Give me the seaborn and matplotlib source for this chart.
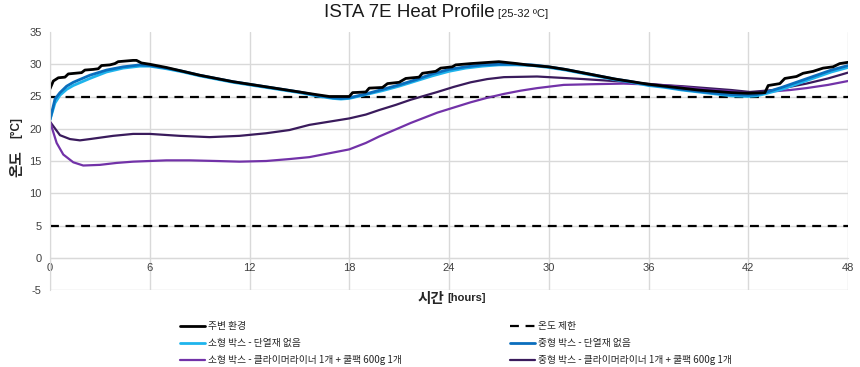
import numpy as np
import pandas as pd
import matplotlib
matplotlib.use("Agg")
import matplotlib.pyplot as plt
import seaborn as sns

# ---------------- data ----------------
amb_t = [0, 0.2, 0.5, 0.9, 1.1, 1.5, 1.9, 2.1, 2.6, 2.9, 3.1, 3.6, 3.9, 4.1, 5.0, 5.2, 5.5, 6,
         7, 8, 9, 10, 11, 12, 13, 14, 15, 16, 16.8, 18.0,
         18.2, 19.0, 19.2, 20.0, 20.3, 21.0, 21.4, 22.2, 22.4, 23.2, 23.5, 24.2, 24.4, 25.3, 27.0,
         28.1, 28.7, 30, 31, 32, 33, 34, 35, 36, 37, 38, 39, 40, 41, 42, 43.0,
         43.2, 43.9, 44.2, 44.9, 45.3, 45.9, 46.5, 47.1, 47.5, 48]
amb_v = [26.2, 27.4, 27.9, 28.0, 28.5, 28.6, 28.7, 29.1, 29.2, 29.3, 29.8, 29.9, 30.1, 30.4, 30.6, 30.6, 30.2, 30.0,
         29.5, 28.9, 28.3, 27.8, 27.3, 26.9, 26.5, 26.1, 25.7, 25.3, 25.0, 25.0,
         25.6, 25.7, 26.3, 26.4, 27.0, 27.2, 27.8, 28.0, 28.6, 28.9, 29.4, 29.6, 29.9, 30.1, 30.4,
         30.1, 29.9, 29.6, 29.2, 28.7, 28.2, 27.7, 27.3, 26.9, 26.6, 26.3, 26.0, 25.8, 25.6, 25.5, 25.6,
         26.7, 27.0, 27.8, 28.1, 28.6, 28.9, 29.4, 29.6, 30.1, 30.3]

blue_t = [0, 0.3, 0.6, 1, 1.4, 2.4, 3.4, 4.4, 5.4, 6, 7, 8, 9, 10, 11, 12, 13, 14, 15, 16, 17, 17.5, 18,
          19, 20, 21, 22, 23, 24, 25, 26, 27, 28, 29, 30, 31, 32, 33, 34, 35, 36, 37, 38, 39, 40, 41,
          42, 42.5, 43, 44, 45, 46, 47, 48]
small_blue_v = [21.4, 24.0, 25.2, 26.1, 26.7, 27.8, 28.8, 29.4, 29.7, 29.7, 29.3, 28.8, 28.2, 27.7, 27.2, 26.8,
                26.4, 26.0, 25.6, 25.1, 24.7, 24.6, 24.7, 25.3, 25.9, 26.6, 27.4, 28.2, 28.9, 29.4, 29.7, 29.9,
                29.9, 29.8, 29.5, 29.1, 28.6, 28.1, 27.6, 27.2, 26.7, 26.4, 26.0, 25.7, 25.4, 25.1, 25.0, 25.1,
                25.4, 26.1, 27.0, 27.9, 28.8, 29.5]
med_blue_v = [21.4, 24.6, 25.6, 26.6, 27.2, 28.3, 29.1, 29.6, 29.9, 29.8, 29.4, 28.9, 28.3, 27.8, 27.3, 26.9,
              26.5, 26.1, 25.7, 25.2, 24.8, 24.7, 24.8, 25.4, 26.1, 26.8, 27.6, 28.5, 29.2, 29.6, 29.9, 30.0,
              30.0, 29.9, 29.6, 29.2, 28.7, 28.2, 27.7, 27.3, 26.8, 26.5, 26.1, 25.8, 25.5, 25.3, 25.2, 25.3,
              25.6, 26.4, 27.3, 28.2, 29.1, 29.8]

small_pur_t = [0, 0.4, 0.8, 1.4, 2, 3, 4, 5, 6, 7, 8.4, 10, 11.4, 13, 14.4, 15.6, 16.8, 18, 19, 19.8, 20.8,
               21.7, 22.5, 23.3, 24.3, 25.3, 26.3, 27.3, 28.3, 29.3, 30.9, 32.5, 34.5, 36.7, 38, 39.5, 41,
               42.1, 43.5, 44.5, 45.5, 46.8, 48]
small_pur_v = [21.1, 17.8, 16.0, 14.8, 14.3, 14.4, 14.7, 14.9, 15.0, 15.1, 15.1, 15.0, 14.9, 15.0, 15.3, 15.6,
               16.2, 16.8, 17.8, 18.8, 19.9, 20.9, 21.7, 22.5, 23.3, 24.1, 24.8, 25.4, 25.9, 26.3, 26.8, 26.9,
               27.0, 26.8, 26.5, 26.1, 25.8, 25.5, 25.8, 26.0, 26.3, 26.8, 27.4]

med_pur_t = [0, 0.6, 1.2, 1.8, 2.4, 3.8, 5, 6, 7.8, 9.6, 11.4, 13, 14.4, 15.6, 16.8, 18, 19, 19.8, 20.8, 21.7,
             22.5, 23.3, 24.3, 25.3, 26.3, 27.3, 29.3, 30.7, 32.1, 34.5, 36.7, 38, 39.5, 41, 42.1, 43.5,
             44.5, 45.5, 46.8, 48]
med_pur_v = [21.1, 19.0, 18.4, 18.2, 18.4, 18.9, 19.2, 19.2, 18.9, 18.7, 18.9, 19.3, 19.8, 20.6, 21.1, 21.6,
             22.2, 22.9, 23.7, 24.5, 25.1, 25.7, 26.5, 27.2, 27.7, 28.0, 28.1, 27.9, 27.7, 27.3, 26.8, 26.6,
             26.3, 26.0, 25.7, 26.0, 26.5, 27.0, 27.8, 28.7]

limits = [25, 5]

x_ticks = [0, 6, 12, 18, 24, 30, 36, 42, 48]
y_ticks = [-5, 0, 5, 10, 15, 20, 25, 30, 35]

labels = ["주변 환경", "소형 박스 - 단열재 없음", "소형 박스 - 클라이머라이너 1개 + 쿨팩 600g 1개",
          "온도 제한", "중형 박스 - 단열재 없음", "중형 박스 - 클라이머라이너 1개 + 쿨팩 600g 1개"]

# ---------------- style ----------------
sns.set_style("white")
plt.rcParams["font.family"] = ["Liberation Sans", "Noto Sans CJK KR", "DejaVu Sans"]
KFONT = ["Noto Sans CJK KR", "DejaVu Sans"]

fig = plt.figure(figsize=(8.6, 3.67), dpi=100)
W, H = 860, 367
ax = fig.add_axes([50 / W, 1 - 290 / H, (848 - 50) / W, (290 - 32) / H])

GRID = "#D9D9D9"
series = [
    ("amb", amb_t, amb_v, "#000000", 2.0),
    ("small_blue", blue_t, small_blue_v, "#1EB4EC", 2.0),
    ("med_blue", blue_t, med_blue_v, "#0A6EBD", 2.0),
    ("small_pur", small_pur_t, small_pur_v, "#7232A8", 1.6),
    ("med_pur", med_pur_t, med_pur_v, "#3A1B5C", 1.6),
]
lines = {}
order = ["med_pur", "small_pur", "small_blue", "med_blue", "amb"]
sdict = {s[0]: s for s in series}
for key in order:
    name, t, v, c, lw = sdict[key]
    df = pd.DataFrame({"t": t, "v": v})
    sns.lineplot(data=df, x="t", y="v", ax=ax, color=c, linewidth=lw, estimator=None, sort=True)
    lines[key] = ax.get_lines()[-1]

lim_lines = []
for lv in limits:
    ln = ax.axhline(lv, color="black", linewidth=1.6, linestyle=(0, (4, 3)), zorder=1.5)
    lim_lines.append(ln)

ax.set_xlim(0, 48)
ax.set_ylim(-5, 35)
ax.set_xticks(x_ticks)
ax.set_yticks(y_ticks)
ax.set_xticklabels([str(x) for x in x_ticks])
ax.set_yticklabels([str(y) for y in y_ticks])
ax.grid(True, color=GRID, linewidth=1.0, zorder=0)
ax.set_axisbelow(True)
for gl, val in zip(ax.yaxis.get_gridlines(), y_ticks):
    if val == 35:
        gl.set_visible(False)
for s in ["top", "right"]:
    ax.spines[s].set_visible(False)
ax.spines["left"].set_color(GRID)
ax.spines["bottom"].set_color(GRID)
ax.spines["bottom"].set_position(("data", 0))
ax.tick_params(axis="both", length=0, labelsize=8, labelcolor="#404040")
ax.tick_params(axis="x", pad=4)
ax.tick_params(axis="y", pad=6)
ax.set_xlabel("")
ax.set_ylabel("")

# title
fig.text(495 / W, 1 - 17 / H, "ISTA 7E Heat Profile", ha="right", va="baseline",
         fontsize=13.5, color="#1a1a1a", family=["Liberation Sans"])
fig.text(498 / W, 1 - 17 / H, "[25-32 ºC]", ha="left", va="baseline",
         fontsize=8, color="#1a1a1a", family=["Liberation Sans"])

# x label
fig.text(444 / W, 1 - 298 / H, "시간", ha="right", va="center", fontsize=10.5,
         fontweight="bold", family=KFONT)
fig.text(447 / W, 1 - 298 / H, "[hours]", ha="left", va="center", fontsize=8,
         fontweight="bold", family=["Liberation Sans"])

# y label
fig.text(16 / W, 1 - 164 / H, "온도", ha="center", va="center", rotation=90,
         fontsize=10.5, fontweight="bold", family=KFONT)
fig.text(16 / W, 1 - 128 / H, "[°C]", ha="center", va="center", rotation=90,
         fontsize=8.5, fontweight="bold", family=["Liberation Sans"])

# legends
col1 = [lines["amb"], lines["small_blue"], lines["small_pur"]]
col2 = [lim_lines[0], lines["med_blue"], lines["med_pur"]]
kw = dict(frameon=False, loc="upper left", prop={"family": KFONT, "size": 7},
          handlelength=2.6, handletextpad=0.3, labelspacing=0.72, borderpad=0, borderaxespad=0)
fig.legend(col1, labels[0:3], bbox_to_anchor=(180 / W, 1 - 321 / H), **kw)
fig.legend(col2, labels[3:6], bbox_to_anchor=(510 / W, 1 - 321 / H), **kw)

fig.savefig("out.png", dpi=100)
